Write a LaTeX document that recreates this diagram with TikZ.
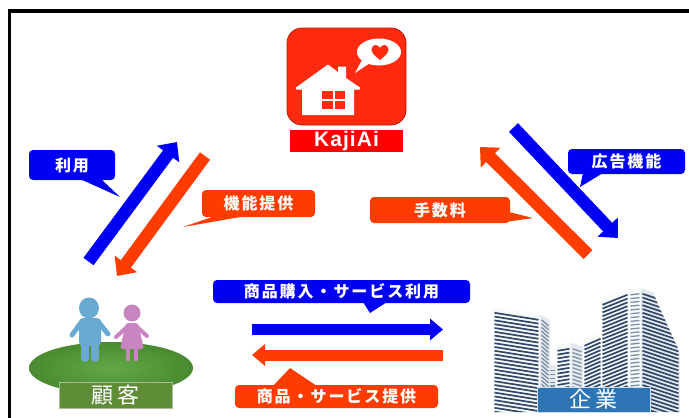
\documentclass[tikz,border=0pt]{standalone}
\usepackage{fontspec}
\usetikzlibrary{arrows.meta}
\newfontfamily\jp{Noto Sans CJK JP}
\newfontfamily\jpsp[LetterSpace=12]{Noto Sans CJK JP}
\newfontfamily\jpwide[LetterSpace=14]{Noto Sans CJK JP}
\newfontfamily\logofont[LetterSpace=5]{Liberation Sans}

\definecolor{cblue}{HTML}{0000F5}
\definecolor{cred}{HTML}{FF3C00}
\definecolor{iconred}{HTML}{FF2A10}
\definecolor{logored}{HTML}{FF0000}
\definecolor{grassin}{HTML}{62A847}
\definecolor{grassout}{HTML}{4A8A30}
\definecolor{tagg}{HTML}{5E8C37}
\definecolor{corp}{HTML}{2E75B6}
\definecolor{manc}{HTML}{6AAAD2}
\definecolor{womanc}{HTML}{C985C0}
\definecolor{stripedark}{HTML}{30496A}
\definecolor{stripelight}{HTML}{7D8FA6}
\definecolor{bwhite}{HTML}{F8F9FA}
\definecolor{bgrey}{HTML}{E6E9ED}

\tikzset{
  callout/.style={rounded corners=4pt, text=white, inner sep=0pt,
    font=\jpsp\bfseries\fontsize{16}{18}\selectfont},
  bluecall/.style={callout, fill=cblue},
  redcall/.style={callout, fill=cred},
  fatarrow/.style={line width=12.5pt, -{Triangle[length=15pt,width=27pt]}},
  flatarrow/.style={line width=11pt, -{Triangle[length=13pt,width=21pt]}},
  winrow/.style={line width=1.7pt, stripedark},
  winrowlight/.style={line width=1.3pt, stripelight},
}

% one face of a tower: x1, top y at x1, x2, top y at x2, fill, stripe style
\newcommand\facade[6]{%
  \fill[#5] (#1,#2) -- (#3,#4) -- (#3,412) -- (#1,412) -- cycle;
  \begin{scope}
    \clip (#1,#2) -- (#3,#4) -- (#3,412) -- (#1,412) -- cycle;
    \foreach \k in {1,...,32} {
      \draw[#6] ({#1+1.5},{#2+2+\k*3.8}) -- ({#3-1.5},{#4+2+\k*3.8});
    }
  \end{scope}}

\begin{document}
\begin{tikzpicture}[x=1pt,y=-1pt]
\useasboundingbox (0,0) rectangle (689,418);
\fill[white] (0,0) rectangle (689,418);

% frame
\draw[line width=3.5pt] (689,11) -- (9.5,11) -- (9.5,418);

% ---------- app icon ----------
\draw[fill=iconred, draw=iconred!70!black, line width=0.8pt, rounded corners=15pt]
  (287,28) rectangle (406,125);
\fill[white] (296,87.5) -- (328,64.5) -- (338,72) -- (338,66.5) -- (346,66.5)
  -- (346,78) -- (360,87.5) -- (360,89.5) -- (354,89.5) -- (354,115)
  -- (302,115) -- (302,89.5) -- (296,89.5) -- cycle;
\fill[iconred] (322,91) rectangle (332.5,99.2);
\fill[iconred] (334.5,91) rectangle (345,99.2);
\fill[iconred] (322,101) rectangle (332.5,109);
\fill[iconred] (334.5,101) rectangle (345,109);
\fill[white] (379,52) ellipse (22 and 13.5);
\fill[white] (362,60) -- (355,73) -- (370,63) -- cycle;
\fill[iconred] (380,60) .. controls (374,55) and (371.5,52.5) .. (371.5,49.5)
  .. controls (371.5,46.5) and (373.5,45) .. (375.7,45)
  .. controls (377.7,45) and (379.3,46.5) .. (380,48)
  .. controls (380.7,46.5) and (382.3,45) .. (384.3,45)
  .. controls (386.5,45) and (388.5,46.5) .. (388.5,49.5)
  .. controls (388.5,52.5) and (386,55) .. (380,60) -- cycle;
\node[fill=logored, minimum width=113pt, minimum height=22pt, inner sep=0pt,
  text=white, font=\logofont\bfseries\fontsize{21}{21}\selectfont]
  (logo) at (346.5,141) {KajiAi};

% ---------- customers ----------
\shade[inner color=grassin, outer color=grassout] (111,368) ellipse (82 and 26);
% man
\fill[manc] (89,308) ellipse (10 and 10.5);
\fill[manc, rounded corners=4pt] (79,318) rectangle (101,346);
\draw[manc, line width=5pt, line cap=round] (81.5,322) -- (72,335);
\draw[manc, line width=5pt, line cap=round] (98.5,322) -- (108,334);
\draw[manc, line width=8pt, line cap=round] (85,342) -- (85,358);
\draw[manc, line width=8pt, line cap=round] (95,342) -- (95,358);
% woman
\fill[womanc] (132,313) ellipse (8.5 and 8.5);
\fill[womanc, rounded corners=2.5pt] (126,323) -- (138,323) -- (144,349)
  -- (120,349) -- cycle;
\draw[womanc, line width=4pt, line cap=round] (127,327) -- (116,337);
\draw[womanc, line width=4pt, line cap=round] (137,327) -- (147,336);
\draw[womanc, line width=4.5pt, line cap=round] (128,347) -- (128,359);
\draw[womanc, line width=4.5pt, line cap=round] (136,347) -- (136,359);
\node[fill=tagg, draw=tagg!55!white, line width=1pt, minimum width=113pt,
  minimum height=26pt, inner sep=0pt, text=white,
  font=\jpwide\fontsize{22}{24}\selectfont] (cust) at (115.5,395) {顧客};

% ---------- company towers ----------
\facade{545}{365}{556}{365}{bgrey}{winrowlight}
\facade{556}{345}{571}{343}{bwhite}{winrow}
\facade{571}{343}{583}{346}{bgrey}{winrowlight}
\facade{583}{340}{602}{333}{bwhite}{winrow}
\facade{493}{307}{540}{314}{bwhite}{winrow}
\facade{540}{314}{550}{320}{bgrey}{winrowlight}
\facade{601}{299}{629}{289}{bwhite}{winrow}
\facade{629}{289}{641}{288}{bwhite}{winrowlight}
\begin{scope}
  \clip (641,288) -- (653,292) -- (657,302) -- (680,353) -- (680,412)
    -- (641,412) -- cycle;
  \facade{641}{288}{680}{300}{bgrey}{winrow}
\end{scope}
\node[fill=corp, draw=white!75!corp, line width=0.8pt, minimum width=113pt,
  minimum height=25pt, inner sep=0pt, text=white,
  font=\jpwide\fontsize{22}{24}\selectfont] (firm) at (593.5,399.5) {企業};

% ---------- flows ----------
\coordinate (ubt) at (88.5,261.5);  \coordinate (ubh) at (177,142);
\coordinate (urt) at (205,156);     \coordinate (urh) at (117,276);
\coordinate (cbt) at (513.5,127.5); \coordinate (cbh) at (618,238);
\coordinate (crt) at (588,254.5);   \coordinate (crh) at (480,147);
\coordinate (bbt) at (252,329.5);   \coordinate (bbh) at (443,329.5);
\coordinate (brt) at (443,355);     \coordinate (brh) at (252,355);

\draw[fatarrow, cblue] (ubt) -- (ubh);
\draw[fatarrow, cred] (urt) -- (urh);
\draw[fatarrow, cblue] (cbt) -- (cbh);
\draw[fatarrow, cred] (crt) -- (crh);
\draw[flatarrow, cblue] (bbt) -- (bbh);
\draw[flatarrow, cred] (brt) -- (brh);

% ---------- callouts ----------
\fill[cblue] (80,179) -- (120,197) -- (101,179) -- cycle;
\node[bluecall, minimum width=86pt, minimum height=30pt] (use) at (72,165) {利用};

\fill[cred] (218,215) -- (183,227) -- (252,215) -- cycle;
\node[redcall, minimum width=113pt, minimum height=27pt] (func) at (258.5,203.5) {機能提供};

\fill[cblue] (583,173) -- (580,187) -- (603,173) -- cycle;
\node[bluecall, minimum width=117pt, minimum height=25pt] (ad) at (626.5,161.5) {広告機能};

\fill[cred] (505,211) -- (533,218) -- (505,222) -- cycle;
\node[redcall, minimum width=140pt, minimum height=26pt] (fee) at (440,210) {手数料};

\fill[cblue] (363,302) -- (370,313) -- (387,302) -- cycle;
\node[bluecall, minimum width=257pt, minimum height=23pt] (buy) at (341.5,291.5) {商品購入・サービス利用};

\fill[cred] (273,386) -- (290,368) -- (317,386) -- cycle;
\node[redcall, minimum width=203pt, minimum height=23pt] (serve) at (336.5,396.5) {商品・サービス提供};

\end{tikzpicture}
\end{document}
